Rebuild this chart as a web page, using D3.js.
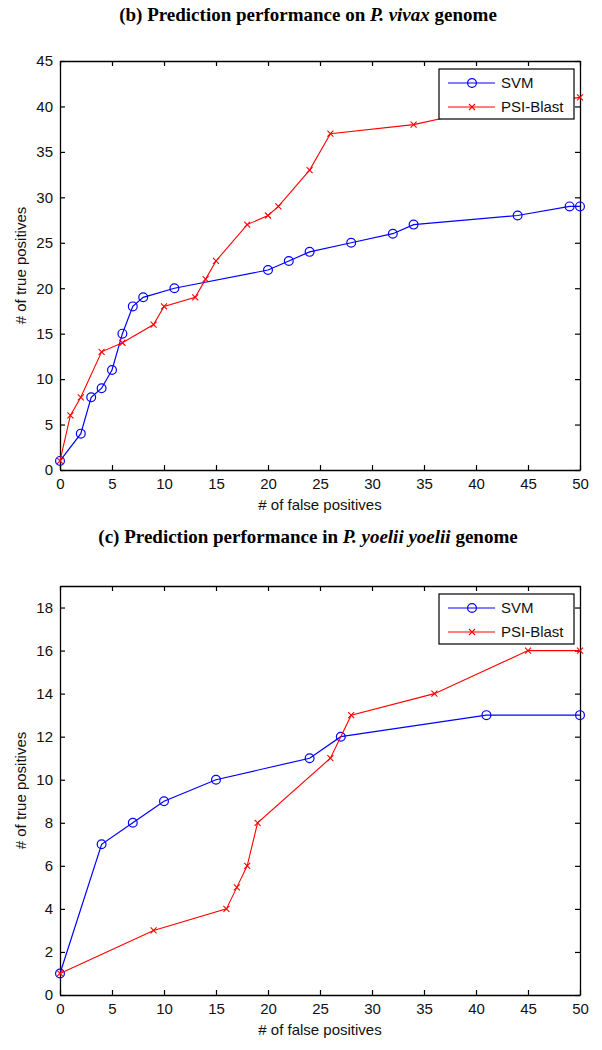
<!DOCTYPE html>
<html><head><meta charset="utf-8">
<script src="https://cdn.jsdelivr.net/npm/d3@7"></script>
<style>body{margin:0;background:#fff}svg{display:block}</style>
</head><body>
<svg id="c" width="602" height="1050"></svg>
<script>
// ---- data ----
const xTicks = [0,5,10,15,20,25,30,35,40,45,50];
const seriesNames = ["SVM","PSI-Blast"];

// (b) P. vivax
const vivaxSvmX = [0,2,3,4,5,6,7,8,11,20,22,24,28,32,34,44,49,50];
const vivaxSvmY = [1,4,8,9,11,15,18,19,20,22,23,24,25,26,27,28,29,29];
const vivaxPsiX = [0,1,2,4,6,9,10,13,14,15,18,20,21,24,26,34,38,50];
const vivaxPsiY = [1,6,8,13,14,16,18,19,21,23,27,28,29,33,37,38,39,41];
const vivaxYTicks = [0,5,10,15,20,25,30,35,40,45];

// (c) P. yoelii yoelii
const yoeliiSvmX = [0,4,7,10,15,24,27,41,50];
const yoeliiSvmY = [1,7,8,9,10,11,12,13,13];
const yoeliiPsiX = [0,9,16,17,18,19,26,28,36,45,50];
const yoeliiPsiY = [1,3,4,5,6,8,11,13,14,16,16];
const yoeliiYTicks = [0,2,4,6,8,10,12,14,16,18];

const svg = d3.select("#c");
const FONT = "Liberation Sans, Arial, sans-serif";
const BLUE = "#0000ff", RED = "#ff0000";

function title(y, parts){
  const t = svg.append("text").attr("x",308).attr("y",y).attr("text-anchor","middle")
    .attr("font-family","Liberation Serif, Times New Roman, serif").attr("font-weight","bold")
    .attr("font-size",19).attr("fill","#000");
  parts.forEach(p=>t.append("tspan").attr("font-style",p[1]?"italic":"normal").text(p[0]));
}

function panel(top, bottom, yMax, yTicks, svm, psi, legendTop){
  const x = d3.scaleLinear().domain([0,50]).range([60,580]);
  const y = d3.scaleLinear().domain([0,yMax]).range([bottom, top]);
  const g = svg.append("g");
  const tk = 5;
  const ax = g.append("g").attr("transform",`translate(0,${bottom})`)
    .call(d3.axisBottom(x).tickValues(xTicks).tickSizeInner(-tk).tickSizeOuter(0).tickPadding(8));
  const axT = g.append("g").attr("transform",`translate(0,${top})`)
    .call(d3.axisTop(x).tickValues(xTicks).tickSizeInner(-tk).tickSizeOuter(0).tickFormat(""));
  const ay = g.append("g").attr("transform",`translate(60,0)`)
    .call(d3.axisLeft(y).tickValues(yTicks).tickSizeInner(-tk).tickSizeOuter(0).tickPadding(7));
  const ayR = g.append("g").attr("transform",`translate(580,0)`)
    .call(d3.axisRight(y).tickValues(yTicks).tickSizeInner(-tk).tickSizeOuter(0).tickFormat(""));
  [ax,axT,ay,ayR].forEach(a=>{
    a.selectAll("path").attr("stroke","#000").attr("stroke-width",1.3);
    a.selectAll("line").attr("stroke","#000").attr("stroke-width",1.2);
    a.selectAll("text").attr("font-family",FONT).attr("font-size",15).attr("fill","#111");
  });
  g.append("text").attr("x",320).attr("y",bottom+40).attr("text-anchor","middle")
    .attr("font-family",FONT).attr("font-size",15).attr("fill","#111").text("# of false positives");
  g.append("text").attr("transform",`translate(26,${(top+bottom)/2}) rotate(-90)`).attr("text-anchor","middle")
    .attr("font-family",FONT).attr("font-size",15).attr("fill","#111").text("# of true positives");

  const line = d3.line().x(d=>x(d[0])).y(d=>y(d[1]));
  const svmPts = svm[0].map((v,i)=>[v,svm[1][i]]);
  const psiPts = psi[0].map((v,i)=>[v,psi[1][i]]);
  const d = g.append("g");
  d.append("path").attr("d",line(svmPts)).attr("fill","none").attr("stroke",BLUE).attr("stroke-width",1.2);
  d.selectAll(".o").data(svmPts).join("circle").attr("cx",p=>x(p[0])).attr("cy",p=>y(p[1])).attr("r",4.4)
    .attr("fill","none").attr("stroke",BLUE).attr("stroke-width",1.2);
  d.append("path").attr("d",line(psiPts)).attr("fill","none").attr("stroke",RED).attr("stroke-width",1.1);
  const xm = 3;
  d.selectAll(".x").data(psiPts).join("path")
    .attr("d",p=>{const cx=x(p[0]),cy=y(p[1]);return `M${cx-xm},${cy-xm}L${cx+xm},${cy+xm}M${cx-xm},${cy+xm}L${cx+xm},${cy-xm}`;})
    .attr("stroke",RED).attr("stroke-width",1.1).attr("fill","none");

  const L = g.append("g");
  L.append("rect").attr("x",439).attr("y",legendTop).attr("width",135).attr("height",50)
    .attr("fill","#fff").attr("stroke","#000").attr("stroke-width",1.2);
  const rows = [legendTop+14, legendTop+38];
  seriesNames.forEach((nm,i)=>{
    const yy = rows[i], col = i===0?BLUE:RED;
    L.append("line").attr("x1",448).attr("x2",495).attr("y1",yy).attr("y2",yy).attr("stroke",col).attr("stroke-width",1.2);
    if(i===0) L.append("circle").attr("cx",472).attr("cy",yy).attr("r",4.4).attr("fill","none").attr("stroke",col).attr("stroke-width",1.2);
    else L.append("path").attr("d",`M${472-xm},${yy-xm}L${472+xm},${yy+xm}M${472-xm},${yy+xm}L${472+xm},${yy-xm}`).attr("stroke",col).attr("stroke-width",1.1);
    L.append("text").attr("x",501).attr("y",yy+5).attr("font-family",FONT).attr("font-size",15).attr("fill","#111").text(nm);
  });
}

title(21, [["(b) Prediction performance on ",false],["P. vivax",true],[" genome",false]]);
panel(61, 470, 45, vivaxYTicks, [vivaxSvmX,vivaxSvmY], [vivaxPsiX,vivaxPsiY], 69);
title(543, [["(c) Prediction performance in ",false],["P. yoelii yoelii",true],[" genome",false]]);
panel(586, 995, 19, yoeliiYTicks, [yoeliiSvmX,yoeliiSvmY], [yoeliiPsiX,yoeliiPsiY], 594);
</script>
</body></html>
